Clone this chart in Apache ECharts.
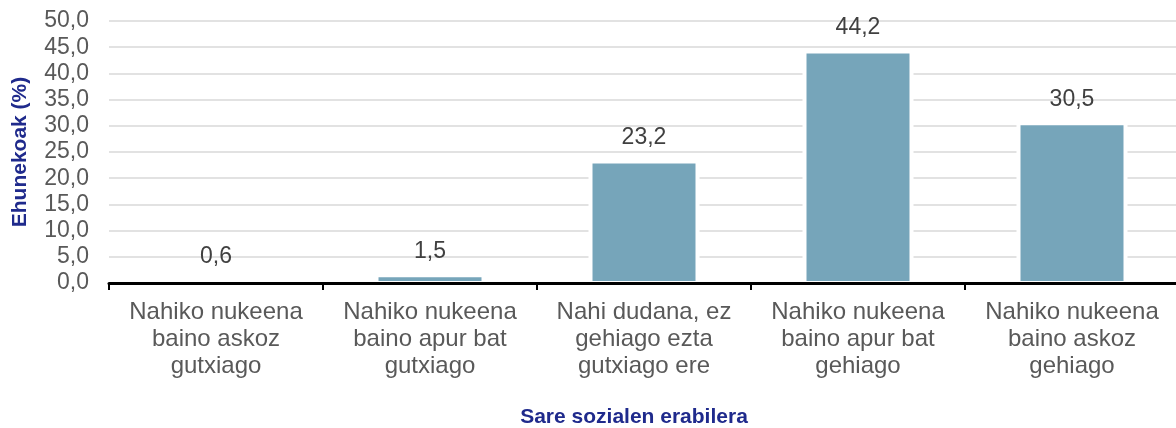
<!DOCTYPE html>
<html>
<head>
<meta charset="utf-8">
<script src="https://cdn.jsdelivr.net/npm/echarts@6/dist/echarts.min.js"></script>
<style>
html,body{margin:0;padding:0;background:#fff;}
#c{width:1176px;height:428px;}
</style>
</head>
<body>
<div id="c"></div>
<script>
var categories = [
  "Nahiko nukeena\nbaino askoz\ngutxiago",
  "Nahiko nukeena\nbaino apur bat\ngutxiago",
  "Nahi dudana, ez\ngehiago ezta\ngutxiago ere",
  "Nahiko nukeena\nbaino apur bat\ngehiago",
  "Nahiko nukeena\nbaino askoz\ngehiago"
];
var values = [0.6, 1.5, 23.2, 44.2, 30.5];
var yTicks = {min: 0, max: 50, interval: 5};
var yTitle = "Ehunekoak (%)";
var xTitle = "Sare sozialen erabilera";

var FONT = 'Liberation Sans, Arial, sans-serif';
var chart = echarts.init(document.getElementById('c'), null, {renderer: 'canvas'});
var fmt = function (v) { return Number(v).toFixed(1).replace('.', ','); };
chart.setOption({
  animation: false,
  backgroundColor: '#ffffff',
  grid: {left: 109, top: 21, width: 1070, height: 262, containLabel: false, outerBoundsMode: 'none'},
  xAxis: [{
    type: 'category',
    data: categories,
    z: 10,
    axisLine: {lineStyle: {color: '#000000', width: 3}},
    axisTick: {show: true, alignWithLabel: false, length: 7, lineStyle: {color: '#000000', width: 2}},
    axisLabel: {
      interval: 0, margin: 16,
      color: '#595959', fontFamily: FONT,
      fontSize: 24, lineHeight: 27
    },
    name: xTitle,
    nameLocation: 'middle',
    nameGap: 124,
    nameTextStyle: {
      color: '#1F2A8C', fontWeight: 'bold', fontSize: 21,
      fontFamily: FONT,
      padding: [0, 20, 0, 0]
    }
  }, {
    type: 'category',
    data: categories,
    show: false
  }],
  yAxis: {
    type: 'value',
    min: yTicks.min, max: yTicks.max, interval: yTicks.interval,
    axisLine: {show: false},
    axisTick: {show: false},
    splitLine: {lineStyle: {color: '#D9D9D9', width: 1.5}},
    axisLabel: {
      formatter: fmt, margin: 20,
      color: '#595959', fontFamily: FONT, fontSize: 23
    },
    name: yTitle,
    nameLocation: 'middle',
    nameRotate: 90,
    nameGap: 78,
    nameTextStyle: {
      color: '#1F2A8C', fontWeight: 'bold', fontSize: 21,
      fontFamily: FONT
    }
  },
  series: [{
    type: 'bar',
    xAxisIndex: 1,
    data: values,
    barWidth: 111,
    silent: true,
    itemStyle: {color: '#ffffff'}
  }, {
    type: 'bar',
    xAxisIndex: 0,
    data: values,
    barWidth: 107,
    itemStyle: {color: '#76A5BA', borderColor: '#ffffff', borderWidth: 2},
    label: {
      show: true, position: 'top', distance: 12,
      formatter: function (p) { return fmt(p.value); },
      color: '#404040', fontFamily: FONT, fontSize: 23
    }
  }]
});
</script>
</body>
</html>
